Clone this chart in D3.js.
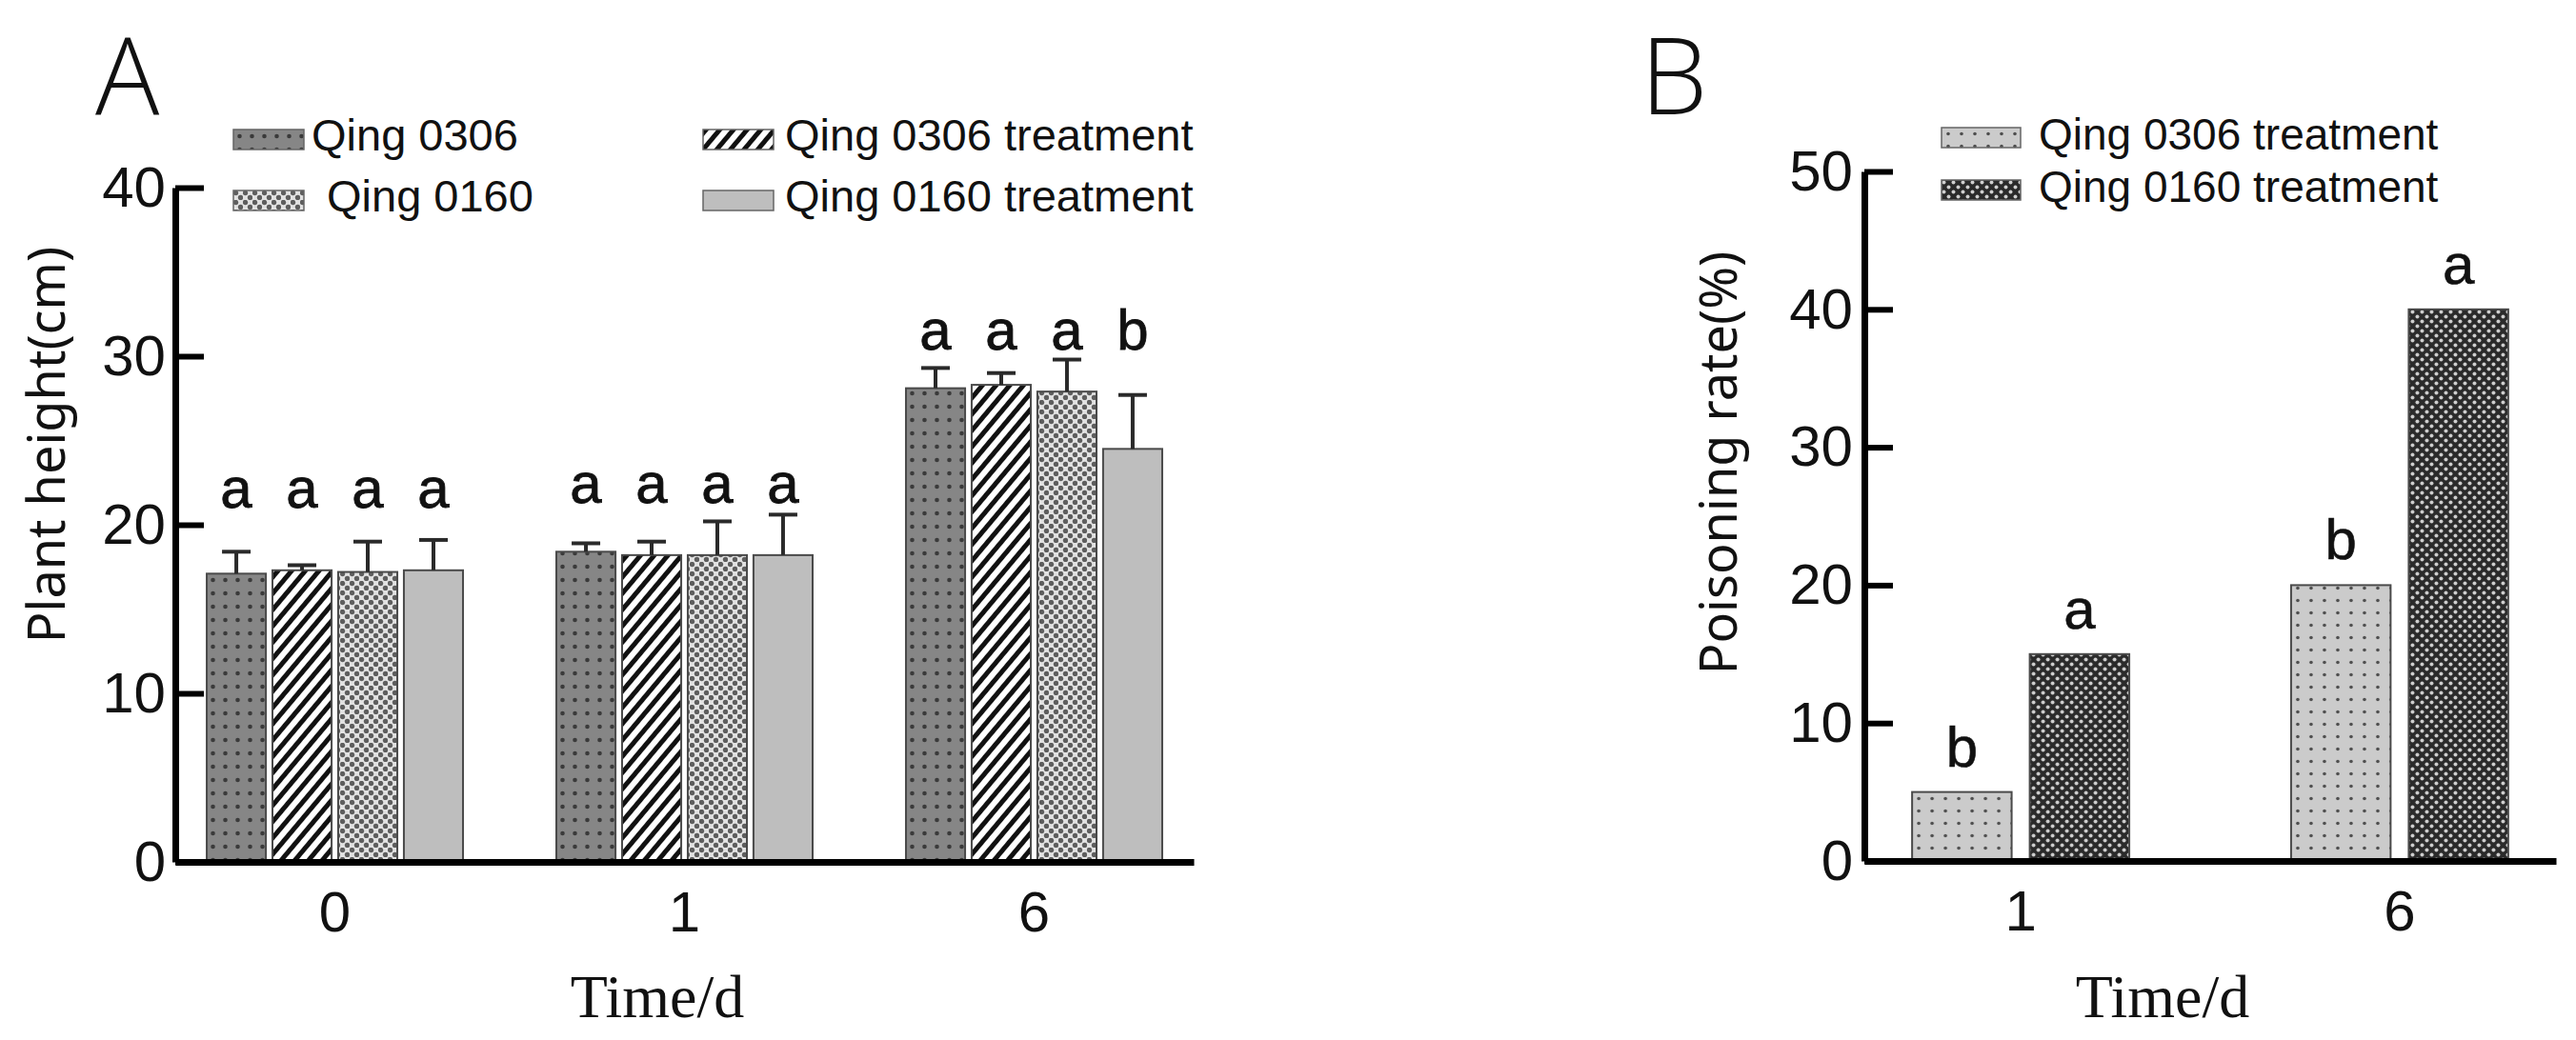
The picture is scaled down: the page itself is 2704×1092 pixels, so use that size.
<!DOCTYPE html>
<html>
<head>
<meta charset="utf-8">
<script src="https://cdn.jsdelivr.net/npm/d3@7/dist/d3.min.js"></script>
<style>
  body { margin: 0; background: #fff; }
  text { fill: #111; }
</style>
</head>
<body>
<svg id="fig" width="2704" height="1092"></svg>
<script>
// panel A : plant height
let daysA = ['0', '1', '6']
let seriesA = ['Qing 0306', 'Qing 0306 treatment', 'Qing 0160', 'Qing 0160 treatment']
let heightMean = [
  [17.1, 17.3, 17.2, 17.3],
  [18.4, 18.2, 18.2, 18.2],
  [28.1, 28.3, 27.9, 24.5]
]
let heightErr = [
  [1.3, 0.3, 1.8, 1.8],
  [0.5, 0.8, 2.0, 2.4],
  [1.2, 0.7, 1.9, 3.2]
]
let lettersA = [['a', 'a', 'a', 'a'], ['a', 'a', 'a', 'a'], ['a', 'a', 'a', 'b']]
let letterLevelA = [21.0, 21.3, 30.4]
let yTicksA = [0, 10, 20, 30, 40]

// panel B : poisoning rate
let daysB = ['1', '6']
let seriesB = ['Qing 0306 treatment', 'Qing 0160 treatment']
let poisonRate = [[5, 15], [20, 40]]
let lettersB = [['b', 'a'], ['b', 'a']]
let yTicksB = [0, 10, 20, 30, 40, 50]

let svg = d3.select('#fig')
let defs = svg.append('defs')

// fill patterns (grayscale, like the print figure)
function dotPattern(id, w, h, bg, dots, fill, r) {
  let p = defs.append('pattern').attr('id', id)
    .attr('patternUnits', 'userSpaceOnUse').attr('width', w).attr('height', h)
  p.append('rect').attr('width', w).attr('height', h).attr('fill', bg)
  dots.forEach(function(d) {
    p.append('circle').attr('cx', d[0]).attr('cy', d[1]).attr('r', r).attr('fill', fill)
  })
}
dotPattern('pDark', 13, 14, '#868686', [[6.5, 7]], '#3a3a3a', 2.3)
dotPattern('pCheck', 10, 10, '#e2e2e2', [[2.5, 2.5], [7.5, 7.5]], '#5e5e5e', 2.7)
dotPattern('pLightDot', 14, 13, '#cbcbcb', [[7, 6.5]], '#4e4e4e', 1.8)
dotPattern('pDarkCheck', 10, 10, '#2a2a2a', [[2.5, 2.5], [7.5, 7.5]], '#cfcfcf', 2.0)

let stripe = defs.append('pattern').attr('id', 'pStripe')
  .attr('patternUnits', 'userSpaceOnUse').attr('width', 11).attr('height', 11)
  .attr('patternTransform', 'rotate(40)')
stripe.append('rect').attr('width', 11).attr('height', 11).attr('fill', '#fff')
stripe.append('rect').attr('width', 5).attr('height', 11).attr('fill', '#111')

let fillA = ['url(#pDark)', 'url(#pStripe)', 'url(#pCheck)', '#bebebe']
let fillB = ['url(#pLightDot)', 'url(#pDarkCheck)']

let sigFont = '60px "Liberation Sans", Arial, sans-serif'

// ---------- panel A ----------
let yA = d3.scaleLinear().domain([0, 40]).range([905, 197])
let x0A = d3.scaleBand().domain(daysA).range([184, 1253]).paddingInner(0.267).paddingOuter(0.09)
let x1A = d3.scaleBand().domain(seriesA).range([0, x0A.bandwidth()]).paddingInner(0.1)

let gA = svg.append('g')

let groupsA = gA.selectAll('g.grp')
  .data(daysA)
  .enter().append('g')
  .attr('class', 'grp')
  .attr('transform', function(d) { return 'translate(' + x0A(d) + ',0)' })

groupsA.each(function(day, gi) {
  let g = d3.select(this)
  let rows = seriesA.map(function(s, si) {
    return { s: s, i: si, v: heightMean[gi][si], e: heightErr[gi][si], l: lettersA[gi][si] }
  })
  g.selectAll('rect').data(rows).enter().append('rect')
    .attr('x', function(d) { return x1A(d.s) })
    .attr('y', function(d) { return yA(d.v) })
    .attr('width', x1A.bandwidth())
    .attr('height', function(d) { return yA(0) - yA(d.v) })
    .attr('fill', function(d) { return fillA[d.i] })
    .attr('stroke', '#4a4a4a').attr('stroke-width', 2)

  let eb = g.selectAll('g.err').data(rows).enter().append('g').attr('class', 'err')
    .attr('stroke', '#2a2a2a').attr('stroke-width', 4)
  eb.append('line')
    .attr('x1', function(d) { return x1A(d.s) + x1A.bandwidth() / 2 })
    .attr('x2', function(d) { return x1A(d.s) + x1A.bandwidth() / 2 })
    .attr('y1', function(d) { return yA(d.v) })
    .attr('y2', function(d) { return yA(d.v + d.e) })
  eb.append('line')
    .attr('x1', function(d) { return x1A(d.s) + x1A.bandwidth() / 2 - 15 })
    .attr('x2', function(d) { return x1A(d.s) + x1A.bandwidth() / 2 + 15 })
    .attr('y1', function(d) { return yA(d.v + d.e) })
    .attr('y2', function(d) { return yA(d.v + d.e) })

  g.selectAll('text.sig').data(rows).enter().append('text')
    .attr('class', 'sig')
    .attr('x', function(d) { return x1A(d.s) + x1A.bandwidth() / 2 })
    .attr('y', yA(letterLevelA[gi]))
    .attr('text-anchor', 'middle')
    .attr('stroke', '#111').attr('stroke-width', 0.8)
    .style('font', sigFont)
    .text(function(d) { return d.l })
})

function styleAxis(g) {
  g.selectAll('.domain').attr('stroke', '#000').attr('stroke-width', 7)
  g.selectAll('.tick line').attr('stroke', '#000').attr('stroke-width', 6)
  g.selectAll('.tick text')
    .style('font', '60px "Liberation Sans", Arial, sans-serif').attr('fill', '#111')
}

gA.append('g')
  .attr('transform', 'translate(0,' + yA(0) + ')')
  .call(d3.axisBottom(x0A).tickSize(0).tickPadding(30).tickSizeOuter(0))
  .call(styleAxis)

gA.append('g')
  .attr('transform', 'translate(184,0)')
  .call(d3.axisLeft(yA).tickValues(yTicksA).tickSize(-30).tickPadding(10).tickSizeOuter(0))
  .call(styleAxis)

gA.append('text').attr('x', 690).attr('y', 1068).attr('text-anchor', 'middle')
  .style('font', '64px "Liberation Serif", "Times New Roman", serif').text('Time/d')
gA.append('text').attr('transform', 'translate(68,467) rotate(-90)').attr('text-anchor', 'middle')
  .style('font', '54px "Noto Sans", sans-serif').text('Plant height(cm)')
gA.append('text').attr('x', 100).attr('y', 120)
  .style('font', '300 112px "Open Sans", "Noto Sans", sans-serif').text('A')

// legend A (two columns)
let legA = gA.selectAll('g.leg').data(seriesA).enter().append('g').attr('class', 'leg')
  .attr('transform', function(d, i) {
    let col = i % 2, row = Math.floor(i / 2)
    return 'translate(' + (col ? 738 : 245) + ',' + (row ? 200 : 136) + ')'
  })
legA.append('rect').attr('width', 74).attr('height', 21)
  .attr('fill', function(d) { return fillA[seriesA.indexOf(d)] })
  .attr('stroke', '#666').attr('stroke-width', 1.5)
legA.append('text')
  .attr('x', function(d, i) { return i === 2 ? 98 : (i % 2 ? 86 : 82) })
  .attr('y', 22)
  .style('font', '47px "Liberation Sans", Arial, sans-serif')
  .text(function(d) { return d })

// ---------- panel B ----------
let yB = d3.scaleLinear().domain([0, 50]).range([904, 180])
let x0B = d3.scaleBand().domain(daysB).range([1957, 2683]).paddingInner(0.427).paddingOuter(0.126)
let x1B = d3.scaleBand().domain(seriesB).range([0, x0B.bandwidth()]).paddingInner(0.154)

let gB = svg.append('g')

let groupsB = gB.selectAll('g.grp')
  .data(daysB)
  .enter().append('g')
  .attr('class', 'grp')
  .attr('transform', function(d) { return 'translate(' + x0B(d) + ',0)' })

groupsB.each(function(day, gi) {
  let g = d3.select(this)
  let rows = seriesB.map(function(s, si) {
    return { s: s, i: si, v: poisonRate[gi][si], l: lettersB[gi][si] }
  })
  g.selectAll('rect').data(rows).enter().append('rect')
    .attr('x', function(d) { return x1B(d.s) })
    .attr('y', function(d) { return yB(d.v) })
    .attr('width', x1B.bandwidth())
    .attr('height', function(d) { return yB(0) - yB(d.v) })
    .attr('fill', function(d) { return fillB[d.i] })
    .attr('stroke', '#4a4a4a').attr('stroke-width', 2)
  g.selectAll('text.sig').data(rows).enter().append('text')
    .attr('class', 'sig')
    .attr('x', function(d) { return x1B(d.s) + x1B.bandwidth() / 2 })
    .attr('y', function(d) { return yB(d.v) - 27 })
    .attr('text-anchor', 'middle')
    .attr('stroke', '#111').attr('stroke-width', 0.6)
    .style('font', sigFont)
    .text(function(d) { return d.l })
})

gB.append('g')
  .attr('transform', 'translate(0,' + yB(0) + ')')
  .call(d3.axisBottom(x0B).tickSize(0).tickPadding(30).tickSizeOuter(0))
  .call(styleAxis)

gB.append('g')
  .attr('transform', 'translate(1957,0)')
  .call(d3.axisLeft(yB).tickValues(yTicksB).tickSize(-30).tickPadding(12).tickSizeOuter(0))
  .call(styleAxis)

gB.append('text').attr('x', 2270).attr('y', 1068).attr('text-anchor', 'middle')
  .style('font', '64px "Liberation Serif", "Times New Roman", serif').text('Time/d')
gB.append('text').attr('transform', 'translate(1823,486) rotate(-90)').attr('text-anchor', 'middle')
  .style('font', '54px "Noto Sans", sans-serif').text('Poisoning rate(%)')
gB.append('text').attr('x', 1722).attr('y', 120)
  .style('font', '300 112px "Open Sans", "Noto Sans", sans-serif').text('B')

let legB = gB.selectAll('g.leg').data(seriesB).enter().append('g').attr('class', 'leg')
  .attr('transform', function(d, i) { return 'translate(2038,' + (134 + i * 55) + ')' })
legB.append('rect').attr('width', 83).attr('height', 21)
  .attr('fill', function(d, i) { return fillB[i] })
  .attr('stroke', '#666').attr('stroke-width', 1.5)
legB.append('text').attr('x', 102).attr('y', 23)
  .style('font', '46px "Liberation Sans", Arial, sans-serif')
  .text(function(d) { return d })
</script>
</body>
</html>
